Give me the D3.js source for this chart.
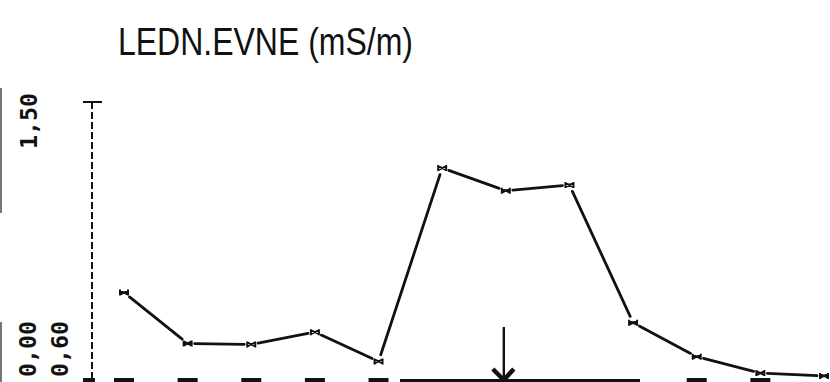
<!DOCTYPE html>
<html>
<head>
<meta charset="utf-8">
<script src="https://cdn.jsdelivr.net/npm/d3@7"></script>
<style>
  body { margin: 0; background: #fff; }
  svg { display: block; }
</style>
</head>
<body>
<svg id="chart" width="830" height="382"></svg>
<script>
// measurement positions along the profile
const stations = [1, 2, 3, 4, 5, 6, 7, 8, 9, 10, 11, 12];
// conductivity readings, mS/m
const conductivity = [0.49, 0.22, 0.215, 0.28, 0.125, 1.15, 1.03, 1.06, 0.33, 0.15, 0.063, 0.048];
// y labels as printed on the plot
const yTopLabel = "1,50";
const yBottomLabels = ["0,00", "0,60"];
// stations whose bottom labels are still visible below the plot
const visibleTickStations = [1, 2, 3, 4, 5, 10, 11];
const arrowStation = 7;

const svg = d3.select('#chart');
const black = '#111';

const x = d3.scaleLinear().domain([1, 12]).range([124, 824]);
const y = d3.scaleLinear().domain([0, 1.5]).range([385, 102]);

// title
svg.append('text')
    .attr('x', 118)
    .attr('y', 55)
    .attr('font-family', '"Liberation Sans Narrow", "Liberation Sans", sans-serif')
    .attr('font-size', 39)
    .attr('textLength', 295)
    .attr('lengthAdjust', 'spacingAndGlyphs')
    .attr('fill', black)
    .text('LEDN.EVNE (mS/m)');

// gray strip on the left edge
svg.append('line')
    .attr('x1', 1).attr('x2', 1).attr('y1', 88).attr('y2', 213)
    .attr('stroke', '#777').attr('stroke-width', 2);
svg.append('line')
    .attr('x1', 1).attr('x2', 1).attr('y1', 322).attr('y2', 382)
    .attr('stroke', '#777').attr('stroke-width', 2);

// rotated y labels
const labelFont = '"DejaVu Sans Mono", monospace';
svg.append('text')
    .attr('transform', 'translate(37,149) rotate(-90)')
    .attr('font-family', labelFont)
    .attr('font-size', 23)
    .attr('font-weight', 'bold')
    .attr('textLength', 56)
    .attr('lengthAdjust', 'spacingAndGlyphs')
    .attr('fill', black)
    .text(yTopLabel);
svg.selectAll('.ybot')
    .data(yBottomLabels)
    .join('text')
    .attr('class', 'ybot')
    .attr('transform', (d, i) => 'translate(' + (36 + i * 32) + ',377) rotate(-90)')
    .attr('font-family', labelFont)
    .attr('font-size', 23)
    .attr('font-weight', 'bold')
    .attr('textLength', 56)
    .attr('lengthAdjust', 'spacingAndGlyphs')
    .attr('fill', black)
    .text(d => d);

// dashed y axis with top tick
const axisX = 92;
svg.append('line')
    .attr('x1', axisX).attr('x2', axisX)
    .attr('y1', y(1.5)).attr('y2', 382)
    .attr('stroke', black).attr('stroke-width', 2)
    .attr('stroke-dasharray', '7,3');
svg.append('line')
    .attr('x1', axisX - 9).attr('x2', axisX + 10)
    .attr('y1', y(1.5)).attr('y2', y(1.5))
    .attr('stroke', black).attr('stroke-width', 2);

// tops of the x tick labels, cut by the picture edge
svg.append('rect')
    .attr('x', 83).attr('y', 378).attr('width', 12).attr('height', 4)
    .attr('fill', black);
svg.selectAll('.xtick')
    .data(visibleTickStations)
    .join('rect')
    .attr('class', 'xtick')
    .attr('x', d => x(d) - 10)
    .attr('y', 378)
    .attr('width', 20)
    .attr('height', 4)
    .attr('fill', black);

// line segments with gaps around the markers
const pts = stations.map((s, i) => [x(s), y(conductivity[i])]);
const gap = 7;
const segs = d3.pairs(pts).map(([a, b]) => {
    const dx = b[0] - a[0], dy = b[1] - a[1];
    const len = Math.hypot(dx, dy);
    const ux = dx / len, uy = dy / len;
    return [a[0] + ux * gap, a[1] + uy * gap, b[0] - ux * gap, b[1] - uy * gap];
});
svg.selectAll('.seg')
    .data(segs)
    .join('line')
    .attr('class', 'seg')
    .attr('x1', d => d[0]).attr('y1', d => d[1])
    .attr('x2', d => d[2]).attr('y2', d => d[3])
    .attr('stroke', black)
    .attr('stroke-width', 2.8)
    .attr('stroke-linecap', 'round');

// bowtie markers
svg.selectAll('.mark')
    .data(pts)
    .join('path')
    .attr('class', 'mark')
    .attr('transform', d => 'translate(' + d[0] + ',' + d[1] + ')')
    .attr('d', 'M-4,-3V3M4,-3V3M-4,-2L4,2M-4,2L4,-2')
    .attr('fill', 'none')
    .attr('stroke', black)
    .attr('stroke-width', 2);

// thick bar along the bottom
svg.append('rect')
    .attr('x', 400).attr('y', 379).attr('width', 240).attr('height', 3)
    .attr('fill', black);

// arrow pointing down to the bar
const ax = x(arrowStation) - 2;
svg.append('line')
    .attr('x1', ax).attr('x2', ax).attr('y1', 327).attr('y2', 380)
    .attr('stroke', black).attr('stroke-width', 2.4);
svg.append('path')
    .attr('d', 'M' + (ax - 11) + ',369L' + ax + ',380L' + (ax + 10) + ',369')
    .attr('fill', 'none')
    .attr('stroke', black)
    .attr('stroke-width', 4.5);
</script>
</body>
</html>
